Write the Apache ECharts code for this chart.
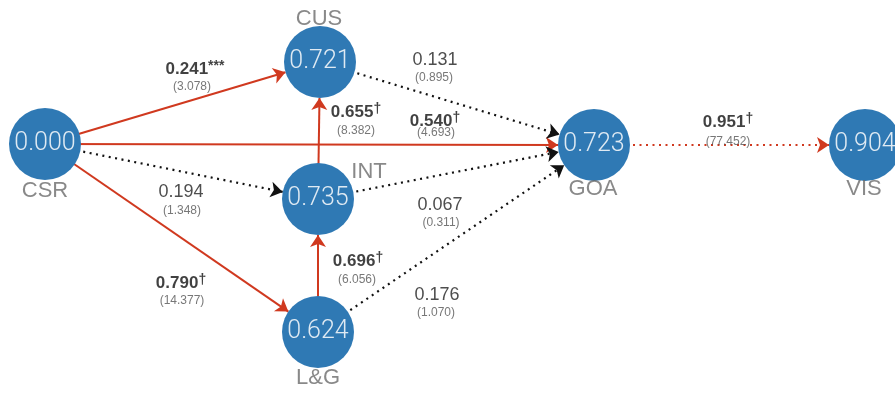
<!DOCTYPE html>
<html>
<head>
<meta charset="utf-8">
<script src="https://cdn.jsdelivr.net/npm/echarts@6/dist/echarts.min.js"></script>
<style>
  html, body { margin: 0; padding: 0; background: #ffffff; }
  #chart { width: 895px; height: 395px; }
</style>
</head>
<body>
<div id="chart"></div>
<script>
// Constructs of the structural model and their R² values
const constructs = ['CSR', 'CUS', 'INT', 'L&G', 'GOA', 'VIS'];
const rSquared = [0.000, 0.721, 0.735, 0.624, 0.723, 0.904];

// Structural paths: source, target, coefficient, t-statistic, significance mark
const pathFrom = ['CSR', 'CSR', 'CSR', 'CSR', 'INT', 'L&G', 'CUS', 'INT', 'L&G', 'GOA'];
const pathTo   = ['CUS', 'GOA', 'INT', 'L&G', 'CUS', 'INT', 'GOA', 'GOA', 'GOA', 'VIS'];
const pathCoef = [0.241, 0.540, 0.194, 0.790, 0.655, 0.696, 0.131, 0.067, 0.176, 0.951];
const pathT    = [3.078, 4.693, 1.348, 14.377, 8.382, 6.056, 0.895, 0.311, 1.070, 77.452];
const pathSig  = ['***', '†', '', '†', '†', '†', '', '', '', '†'];

// Diagram layout, in axis units (one unit per pixel)
const nodePos = {
  'CSR': [45, 144], 'CUS': [320, 62], 'INT': [318, 199],
  'L&G': [318, 332], 'GOA': [594, 145], 'VIS': [865, 145]
};
const namePos = {
  'CSR': [45, 191], 'CUS': [319, 19], 'INT': [369, 172],
  'L&G': [318, 378], 'GOA': [593, 189], 'VIS': [864, 189]
};
const coefPos = [[195, 69], [435, 121], [181, 192], [181, 283], [356, 112],
                 [358, 261], [435, 60], [440, 205], [437, 295], [728, 122]];
const tPos    = [[192, 87], [436, 133], [182, 211], [182, 301], [356, 131],
                 [357, 280], [434, 78], [441, 223], [436, 313], [728, 142]];
// The mediator-to-outcome path is drawn dotted even though significant
const pathStroke = ['solid', 'solid', 'dots', 'solid', 'solid', 'solid', 'dots', 'dots', 'dots', 'dots'];

const RED = '#d0391f';
const BLACK = '#111111';
const NODE_BLUE = '#2f79b4';

const chart = echarts.init(document.getElementById('chart'), null, { renderer: 'canvas' });

const links = pathFrom.map((src, i) => {
  const sig = pathSig[i] !== '';
  const color = sig ? RED : BLACK;
  return {
    source: src,
    target: pathTo[i],
    lineStyle: {
      color: color,
      width: pathStroke[i] === 'solid' ? 2 : 2.2,
      type: pathStroke[i] === 'solid' ? 'solid' : [2, 4.5],
      opacity: 1,
      curveness: 0
    }
  };
});

const coefLabels = pathCoef.map((c, i) => ({
  value: coefPos[i],
  label: {
    formatter: pathSig[i]
      ? '{b|' + c.toFixed(3) + '}{s|' + pathSig[i] + '}'
      : '{n|' + c.toFixed(3) + '}'
  }
}));

const tLabels = pathT.map((t, i) => ({
  value: tPos[i],
  label: { formatter: '(' + t.toFixed(3) + ')' }
}));

const nameLabels = constructs.map(n => ({
  value: namePos[n],
  label: { formatter: n }
}));

chart.setOption({
  backgroundColor: '#ffffff',
  animation: false,
  grid: { left: 0, right: 0, top: 0, bottom: 0 },
  xAxis: { type: 'value', min: 0, max: 895, show: false },
  yAxis: { type: 'value', min: 0, max: 395, inverse: true, show: false },
  series: [
    {
      type: 'graph',
      coordinateSystem: 'cartesian2d',
      layout: 'none',
      silent: true,
      symbol: 'circle',
      symbolSize: 72,
      itemStyle: { color: NODE_BLUE },
      edgeSymbol: ['none', 'arrow'],
      edgeSymbolSize: [0, 12],
      data: constructs.map(n => ({ name: n, value: nodePos[n] })),
      links: links,
      label: {
        show: true,
        position: 'inside',
        formatter: p => rSquared[p.dataIndex].toFixed(3),
        color: '#dfeaf3',
        fontSize: 25,
        fontFamily: 'Roboto',
        fontWeight: 300
      },
      emphasis: { disabled: true },
      z: 2
    },
    {
      type: 'scatter',
      silent: true,
      symbolSize: 0,
      data: nameLabels,
      label: {
        show: true,
        position: 'inside',
        color: '#6b6b6b',
        fontSize: 22,
        fontFamily: 'Liberation Sans'
      },
      z: 3
    },
    {
      type: 'scatter',
      silent: true,
      symbolSize: 0,
      data: coefLabels,
      label: {
        show: true,
        position: 'inside',
        fontFamily: 'Liberation Sans',
        rich: {
          b: { fontSize: 17, fontWeight: 'bold', color: '#111111', fontFamily: 'Liberation Sans', lineHeight: 20 },
          s: { fontSize: 14, fontWeight: 'bold', color: '#111111', fontFamily: 'Liberation Sans', verticalAlign: 'top', lineHeight: 20 },
          n: { fontSize: 18, color: '#222222', fontFamily: 'Liberation Sans', lineHeight: 20 }
        }
      },
      z: 3
    },
    {
      type: 'scatter',
      silent: true,
      symbolSize: 0,
      data: tLabels,
      label: {
        show: true,
        position: 'inside',
        color: '#555555',
        fontSize: 12,
        fontFamily: 'Liberation Sans'
      },
      z: 3
    }
  ]
});
</script>
</body>
</html>
